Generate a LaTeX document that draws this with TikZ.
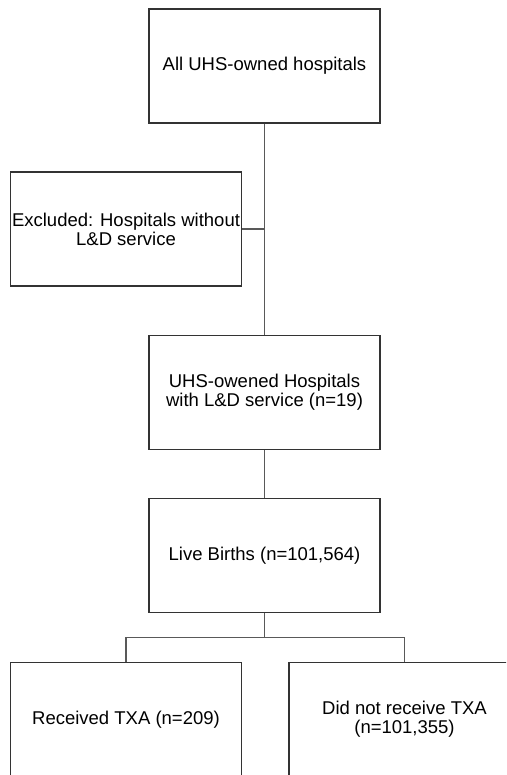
\documentclass[tikz,border=0pt]{standalone}
\usepackage{fontspec}
\setmainfont{Liberation Sans}
\usepackage{tikz}
\usetikzlibrary{calc}
\definecolor{boxline}{rgb}{0.2,0.2,0.2}
\definecolor{joinline}{rgb}{0.35,0.35,0.35}

\begin{document}
\begin{tikzpicture}[x=1pt,y=-1pt,
    stagebox/.style={draw=boxline, line width=1.5pt, fill=white, minimum width=231pt,
      minimum height=114pt, inner sep=0pt, align=center,
      font=\fontsize{18.5}{19}\selectfont},
    joiner/.style={draw=joinline, line width=1.1pt}]
    % Page frame
    \clip (0,0) rectangle (506,775);
    \fill[white] (0,0) rectangle (506,775);
    % Boxes
    \node[stagebox] (allhosp) at (264.5,66) {All UHS-owned hospitals};
    \node[stagebox] (excl) at (126,229) {Excluded: Hospitals without\\L\&D service};
    \node[stagebox] (ldhosp) at (264.5,392.5) {UHS-owened Hospitals\\with L\&D service (n=19)};
    \node[stagebox] (births) at (264.5,555.5) {Live Births (n=101,564)};
    \node[stagebox] (txa) at (126,719.5) {Received TXA (n=209)};
    \node[stagebox] (notxa) at (404.5,719.5) {Did not receive TXA\\(n=101,355)};
    % Join points
    \coordinate (exjoin) at (excl.east -| allhosp.south);
    \coordinate (split) at ($(births.south)+(0,24)$);
    % Connectors
    \draw[joiner] (allhosp.south) -- (ldhosp.north);
    \draw[joiner] (excl.east) -- (exjoin);
    \draw[joiner] (ldhosp.south) -- (births.north);
    \draw[joiner] (births.south) -- (split);
    \draw[joiner] (txa.north) |- (split) -| (notxa.north);
\end{tikzpicture}
\end{document}
